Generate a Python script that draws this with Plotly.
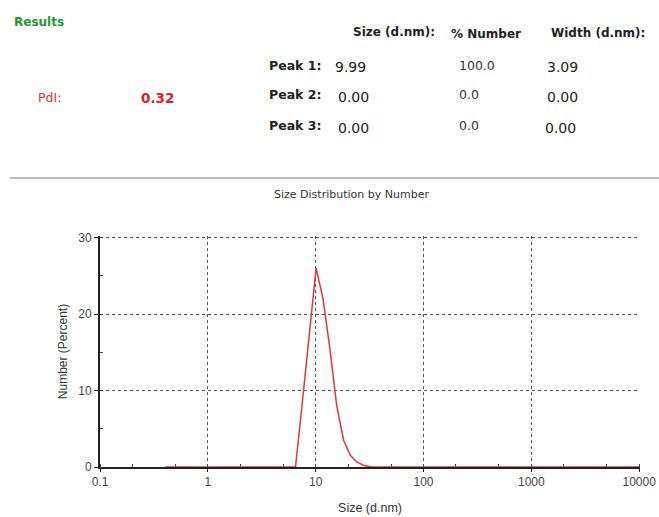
import plotly.graph_objects as go

# Size bins (d.nm) and number distribution (%)
sizes = [0.4, 0.4632, 0.5365, 0.6213, 0.7195, 0.8332, 0.9649, 1.117, 1.294, 1.499,
         1.736, 2.010, 2.328, 2.696, 3.122, 3.615, 4.187, 4.849, 5.615, 6.503,
         7.531, 8.721, 10.10, 11.70, 13.54, 15.69, 18.17, 21.04, 24.36, 28.21,
         32.67, 37.84, 43.82, 50.75, 58.77, 68.06, 78.82, 91.28, 105.7, 122.4,
         141.8, 164.2, 190.1, 220.2, 255.0, 295.3, 342.0, 396.1, 458.7, 531.2,
         615.1, 712.4, 825.0, 955.4, 1106, 1281, 1484, 1718, 1990, 2305,
         2669, 3091, 3580, 4145, 4801, 5560, 6439, 7456, 8635, 10000]
number_pct = [0, 0, 0, 0, 0, 0, 0, 0, 0, 0,
              0, 0, 0, 0, 0, 0, 0, 0, 0, 0,
              8.5, 17.5, 26.0, 22.0, 15.5, 8.0, 3.5, 1.5, 0.6, 0.2,
              0, 0, 0, 0, 0, 0, 0, 0, 0, 0,
              0, 0, 0, 0, 0, 0, 0, 0, 0, 0,
              0, 0, 0, 0, 0, 0, 0, 0, 0, 0,
              0, 0, 0, 0, 0, 0, 0, 0, 0, 0]

x_tick_vals = [0.1, 1, 10, 100, 1000, 10000]
x_tick_text = ["0.1", "1", "10", "100", "1000", "10000"]
y_tick_vals = [0, 10, 20, 30]

peak_labels = ["Peak 1:", "Peak 2:", "Peak 3:"]
peak_size = ["9.99", "0.00", "0.00"]
peak_number = ["100.0", "0.0", "0.0"]
peak_width = ["3.09", "0.00", "0.00"]
pdi_value = "0.32"

W, H = 659, 517
L, R, T, B = 100, 640, 236, 467   # plot area in page pixels

def px(x):
    return (x - L) / (R - L)

def py(y):
    return (B - y) / (B - T)

HFONT = "DejaVu Sans, Verdana, sans-serif"
AFONT = "Liberation Sans, Arial, sans-serif"
TXT = "#222222"

fig = go.Figure()
fig.add_trace(go.Scatter(x=sizes, y=number_pct, mode="lines",
                         line=dict(color="#e8343a", width=1.5),
                         showlegend=False, hoverinfo="x+y"))

ann = []
def add(text, x, y, size=11, color=TXT, bold=False, xanchor="center", font=HFONT):
    t = f"<b>{text}</b>" if bold else text
    ann.append(dict(text=t, x=px(x), y=py(y), xref="paper", yref="paper",
                    showarrow=False, xanchor=xanchor, yanchor="middle",
                    font=dict(family=font, size=size, color=color)))

add("Results", 12, 22, size=12, color="#1e9a2a", bold=True, xanchor="left")
add("PdI:", 36, 97, size=12.5, color="#e03030", xanchor="left")
add(pdi_value, 157, 98, size=13.5, color="#e0202a", bold=True)
add("Size (d.nm):", 394, 32, size=12, bold=True)
add("% Number", 486, 34, size=12, bold=True)
add("Width (d.nm):", 598, 33, size=12, bold=True)

row_y = [65, 95, 126]
for i, (lab, s, n, w) in enumerate(zip(peak_labels, peak_size, peak_number, peak_width)):
    yy = row_y[i]
    add(lab, 267, yy, size=12.5, bold=True, xanchor="left")
    add(s, 333 + (3 if i else 0), yy + 2, size=14, xanchor="left")
    add(n, 457, yy, size=12.5, color="#333333", xanchor="left")
    add(w, 545 - (2 if i == 2 else 0), yy + 2, size=14, xanchor="left")

add("Size Distribution by Number", 351, 195, size=11, color="#333333")

fig.update_layout(
    width=W, height=H,
    margin=dict(l=L, r=W - R, t=T, b=H - B, autoexpand=False),
    paper_bgcolor="white", plot_bgcolor="white",
    annotations=ann,
    shapes=[dict(type="line", xref="paper", yref="paper",
                 x0=px(10), x1=px(659), y0=py(178), y1=py(178),
                 line=dict(color="#777777", width=1))],
    font=dict(family=AFONT, size=12, color="#333333"),
)

fig.update_xaxes(type="log", range=[-1, 4.008], automargin=False,
                 tickvals=x_tick_vals, ticktext=x_tick_text,
                 showline=True, linecolor="#222222", linewidth=1.5,
                 ticks="outside", ticklen=3, tickcolor="#222222",
                 showgrid=True, gridcolor="#555555", griddash="dot", gridwidth=1,
                 minor=dict(ticks="inside", ticklen=3, tickcolor="#444444", showgrid=False),
                 zeroline=False, layer="below traces",
                 tickfont=dict(family=AFONT, size=12, color="#444444"),
                 title=dict(text="Size (d.nm)", standoff=15,
                            font=dict(family=AFONT, size=12.5, color="#333333")))
fig.update_yaxes(range=[0, 30.2], automargin=False, tickvals=y_tick_vals,
                 showline=True, linecolor="#222222", linewidth=2,
                 ticks="outside", ticklen=4, tickcolor="#222222",
                 showgrid=True, gridcolor="#555555", griddash="dot", gridwidth=1,
                 minor=dict(dtick=5, ticks="inside", ticklen=3, tickcolor="#444444", showgrid=False),
                 zeroline=False, layer="below traces",
                 tickfont=dict(family=AFONT, size=12, color="#444444"),
                 title=dict(text="Number (Percent)", standoff=8,
                            font=dict(family=AFONT, size=12, color="#333333")))

fig.write_html("out.html", config={"displayModeBar": False},
               post_script="document.body.style.margin='0';document.body.style.overflow='hidden';")
